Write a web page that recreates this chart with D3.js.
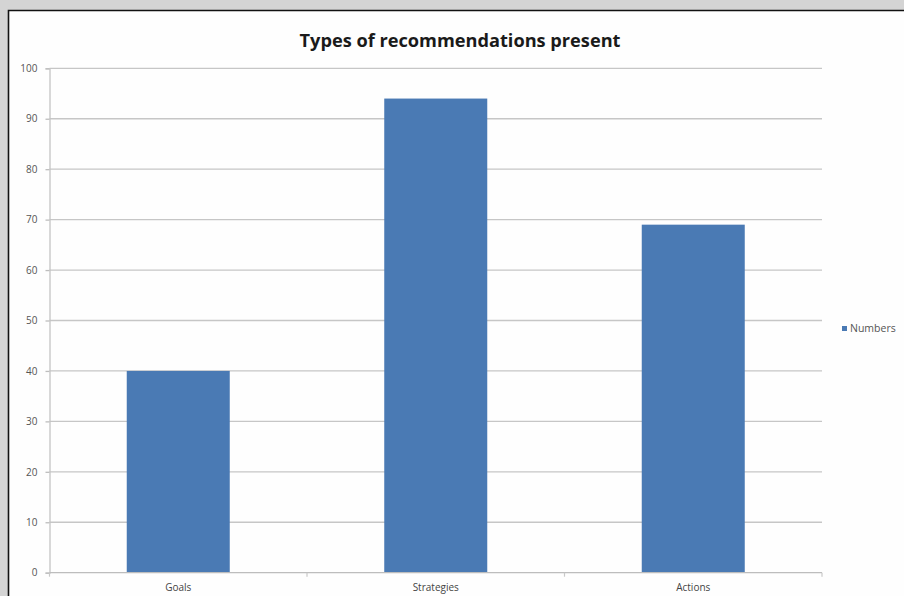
<!DOCTYPE html>
<html>
<head>
<meta charset="utf-8">
<script src="https://cdn.jsdelivr.net/npm/d3@7"></script>
<style>
  html, body { margin: 0; padding: 0; background: #d4d4d4; }
  svg { display: block; }
</style>
</head>
<body>
<svg id="chart" width="904" height="596"></svg>
<script>
// Recommendation counts by type
const categories = ["Goals", "Strategies", "Actions"];
const numbers = [40, 94, 69];
const yTicks = [0, 10, 20, 30, 40, 50, 60, 70, 80, 90, 100];
const seriesName = "Numbers";
const chartTitle = "Types of recommendations present";

const svg = d3.select("#chart");
const W = 904, H = 596;

// Card background with black frame on the top and left
svg.append("rect").attr("x", 0).attr("y", 0).attr("width", W).attr("height", H).attr("fill", "#d4d4d4");
svg.append("rect").attr("x", 8).attr("y", 10).attr("width", W - 8).attr("height", H - 10).attr("fill", "#fefefe");
svg.append("path").attr("d", `M8.5,${H} V10.5 H${W}`).attr("fill", "none").attr("stroke", "#111").attr("stroke-width", 1.6);

const plot = { left: 49.5, right: 822, top: 68.3, bottom: 572.7 };

const x = d3.scaleBand().domain(categories).range([plot.left, plot.right]).paddingInner(0.6).paddingOuter(0.3);
const y = d3.scaleLinear().domain([0, 100]).range([plot.bottom, plot.top]);

const labelFont = "'Open Sans', sans-serif";

// Horizontal gridlines
svg.append("g").selectAll("line").data(yTicks.filter(d => d > 0)).join("line")
  .attr("x1", plot.left).attr("x2", plot.right)
  .attr("y1", d => y(d)).attr("y2", d => y(d))
  .attr("stroke", "#c6c6c6").attr("stroke-width", 1.3);

// Bars
svg.append("g").selectAll("rect").data(numbers).join("rect")
  .attr("x", (d, i) => x(categories[i]))
  .attr("width", x.bandwidth())
  .attr("y", d => y(d))
  .attr("height", d => y(0) - y(d))
  .attr("fill", "#4a7ab4");

// Y axis
const yAxis = d3.axisLeft(y).tickValues(yTicks).tickSize(4).tickPadding(8);
const gy = svg.append("g").attr("transform", `translate(${plot.left},0)`).call(yAxis);
gy.select(".domain").attr("stroke", "#c4c4c4").attr("stroke-width", 1.3);
gy.selectAll(".tick line").attr("stroke", "#bdbdbd").attr("stroke-width", 1.3);
gy.selectAll(".tick text").attr("fill", "#555").attr("font-family", labelFont).attr("font-size", 10);

// X axis baseline with category boundary ticks
const gx = svg.append("g");
gx.append("line").attr("x1", plot.left).attr("x2", plot.right)
  .attr("y1", y(0)).attr("y2", y(0)).attr("stroke", "#bdbdbd").attr("stroke-width", 1.3);
const bounds = categories.map((c, i) => plot.left + i * (plot.right - plot.left) / categories.length).concat([plot.right]);
gx.selectAll("line.b").data(bounds).join("line").attr("class", "b")
  .attr("x1", d => d).attr("x2", d => d)
  .attr("y1", y(0)).attr("y2", y(0) + 4)
  .attr("stroke", "#c8c8c8").attr("stroke-width", 1.2);
gx.selectAll("text").data(categories).join("text")
  .attr("x", d => x(d) + x.bandwidth() / 2)
  .attr("y", y(0) + 18)
  .attr("text-anchor", "middle")
  .attr("fill", "#444")
  .attr("font-family", labelFont)
  .attr("font-size", 10)
  .text(d => d);

// Title
svg.append("text")
  .attr("x", 460).attr("y", 47)
  .attr("text-anchor", "middle")
  .attr("font-family", labelFont)
  .attr("font-weight", "bold")
  .attr("font-size", 18.5)
  .attr("fill", "#1a1a1a")
  .attr("textLength", 321)
  .attr("lengthAdjust", "spacingAndGlyphs")
  .text(chartTitle);

// Legend
const lg = svg.append("g").attr("transform", "translate(842,326)");
lg.append("rect").attr("width", 5).attr("height", 5).attr("fill", "#4a7ab4");
lg.append("text").attr("x", 8).attr("y", 5.5)
  .attr("font-family", labelFont).attr("font-size", 10.5).attr("fill", "#555")
  .text(seriesName);
</script>
</body>
</html>
